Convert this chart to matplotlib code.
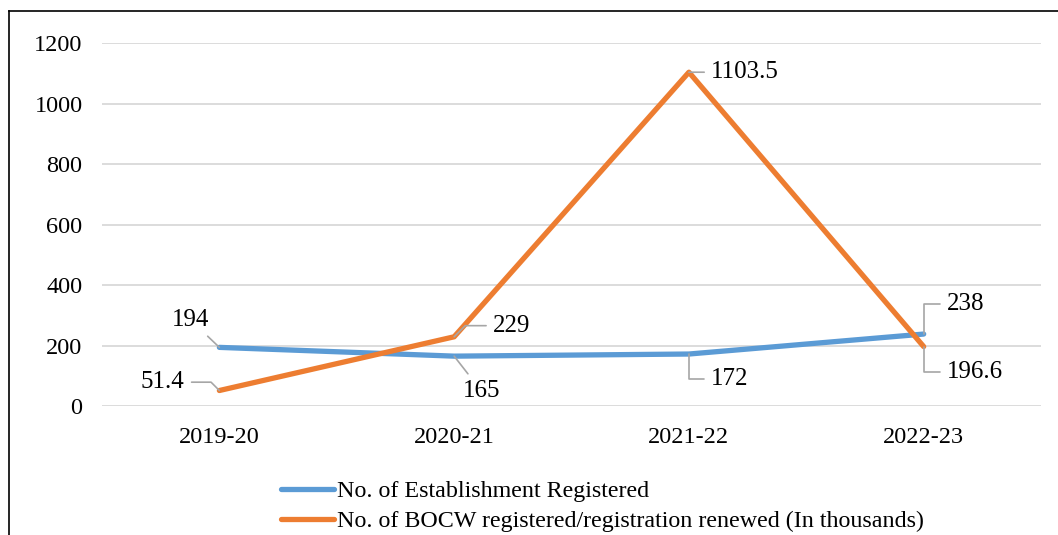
import matplotlib.pyplot as plt
from matplotlib.lines import Line2D

plt.rcParams['font.family'] = ['Liberation Serif', 'DejaVu Serif']

years = ['2019-20', '2020-21', '2021-22', '2022-23']
establishments = [194, 165, 172, 238]
bocw = [51.4, 229, 1103.5, 196.6]

blue = '#5B9BD5'
orange = '#ED7D31'
leader = '#A6A6A6'

fig = plt.figure(figsize=(10.58, 5.35), dpi=100)
ax = fig.add_axes([0.0964, 0.241, 0.8876, 0.6786])

x = range(len(years))
ax.plot(x, establishments, color=blue, lw=3.8, solid_capstyle='round',
        label='No. of Establishment Registered', zorder=3)
ax.plot(x, bocw, color=orange, lw=3.8, solid_capstyle='round',
        label='No. of BOCW registered/registration renewed (In thousands)', zorder=3)

ax.set_xlim(-0.5, 3.5)
ax.set_ylim(0, 1200)
ax.set_yticks(range(0, 1201, 200))
ax.set_xticks(list(x))
ax.set_xticklabels(years)
ax.tick_params(length=0, labelsize=17.5)
ax.tick_params(axis='y', pad=14)
ax.tick_params(axis='x', pad=15)
ax.grid(axis='y', color='#D9D9D9', lw=1.3)
ax.set_axisbelow(True)
for s in ax.spines.values():
    s.set_visible(False)

# data labels with leader lines: (series, index, dx, dy, connection, ha)
labels = [
    (establishments, 0, -21, 20, 'arc3', 'center'),
    (bocw, 0, -25, 6, 'angle,angleA=0,angleB=135,rad=0', 'right'),
    (bocw, 1, 28, 8, 'angle,angleA=0,angleB=45,rad=0', 'left'),
    (establishments, 1, 6, -25, 'arc3', 'left'),
    (bocw, 2, 16, 0, 'arc3', 'left'),
    (establishments, 2, 16, -18, 'angle,angleA=0,angleB=90,rad=0', 'left'),
    (establishments, 3, 17, 22, 'angle,angleA=0,angleB=90,rad=0', 'left'),
    (bocw, 3, 17, -18, 'angle,angleA=0,angleB=90,rad=0', 'left'),
]
for series, i, dx, dy, conn, ha in labels:
    v = series[i]
    ax.annotate(f'{v:g}', xy=(i, v), xytext=(dx, dy), textcoords='offset points',
                ha=ha, va='center', fontsize=18, zorder=4,
                arrowprops=dict(arrowstyle='-', color=leader, lw=1.2,
                                connectionstyle=conn, shrinkA=3, shrinkB=0))

fig.legend(loc='upper left', bbox_to_anchor=(0.266, 0.1025), frameon=False,
           fontsize=17.3, handlelength=2.2, handletextpad=0.1,
           labelspacing=0.34, borderpad=0, borderaxespad=0)

# outer frame: left and top edges
fig.add_artist(Line2D([9 / 1058, 9 / 1058], [0, 1 - 11 / 535], color='black', lw=1.2,
                      transform=fig.transFigure))
fig.add_artist(Line2D([9 / 1058, 1], [1 - 11 / 535, 1 - 11 / 535], color='black', lw=1.2,
                      transform=fig.transFigure))

fig.savefig('out.png', dpi=100)
